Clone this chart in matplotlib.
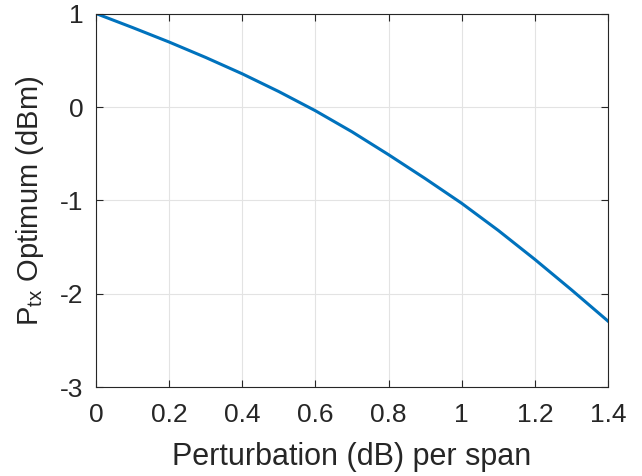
import matplotlib
matplotlib.use("Agg")
from matplotlib import pyplot as plt

# Perturbation per span (dB) and optimum launch power (dBm)
perturbation = [0.0, 0.1, 0.2, 0.3, 0.4, 0.5, 0.6, 0.7, 0.8, 0.9, 1.0, 1.1, 1.2, 1.3, 1.4]
ptx_optimum = [1.0, 0.85, 0.695, 0.53, 0.355, 0.165, -0.04, -0.265, -0.51, -0.765,
               -1.03, -1.32, -1.63, -1.955, -2.29]

x_ticks = [0, 0.2, 0.4, 0.6, 0.8, 1.0, 1.2, 1.4]
x_tick_labels = ["0", "0.2", "0.4", "0.6", "0.8", "1", "1.2", "1.4"]
y_ticks = [-3, -2, -1, 0, 1]
y_tick_labels = ["-3", "-2", "-1", "0", "1"]

plt.rcParams["font.family"] = ["Liberation Sans", "DejaVu Sans"]
plt.rcParams["mathtext.fontset"] = "custom"
plt.rcParams["mathtext.rm"] = "Liberation Sans"
plt.rcParams["mathtext.it"] = "Liberation Sans"

fig = plt.figure(figsize=(6.42, 4.76), dpi=100)
ax = fig.add_axes([0.1495, 0.186, 0.7975, 0.7856])

ax.plot(perturbation, ptx_optimum, color="#0072BD", linewidth=2.2)

ax.set_xlim(0, 1.4)
ax.set_ylim(-3, 1)
ax.set_xticks(x_ticks)
ax.set_xticklabels(x_tick_labels)
ax.set_yticks(y_ticks)
ax.set_yticklabels(y_tick_labels)

ax.grid(True, color="#e3e3e3", linewidth=0.8)
ax.set_axisbelow(True)
for s in ax.spines.values():
    s.set_color("#262626")
    s.set_linewidth(0.8)
ax.tick_params(direction="in", length=5, width=0.8, color="#262626",
               top=True, right=True, labelsize=19, labelcolor="#262626")
ax.tick_params(axis="x", pad=11)
ax.tick_params(axis="y", pad=9)

ax.set_xlabel("Perturbation (dB) per span", fontsize=22, color="#262626", labelpad=11)
ax.set_ylabel("P$_{\\mathrm{tx}}$ Optimum (dBm)", fontsize=21, color="#262626", labelpad=10)

fig.savefig("out.png", dpi=100)
